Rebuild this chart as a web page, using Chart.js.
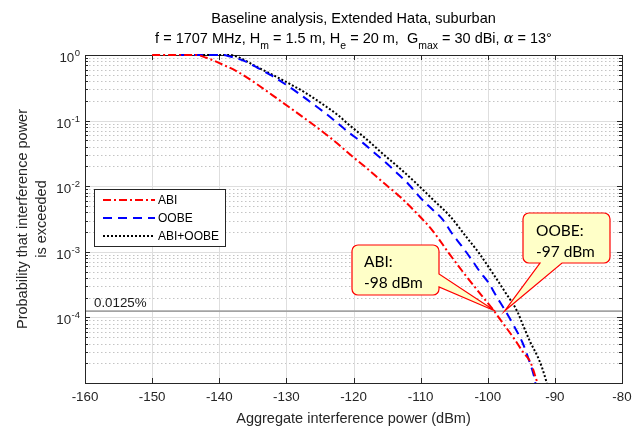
<!DOCTYPE html>
<html>
<head>
<meta charset="utf-8">
<script src="https://cdn.jsdelivr.net/npm/chart.js@4.4.1/dist/chart.umd.min.js"></script>
<style>
  html, body { margin: 0; padding: 0; background: #fff; }
  canvas { display: block; }
</style>
</head>
<body>
<canvas id="grafico" width="633" height="430"></canvas>
<script>
// Curvas de probabilidad de excedencia
const potenciaABI = [-150, -143.5, -141.9, -139.5, -137, -134.6, -132.1, -129.5, -127.1, -124.6, -122.4, -120.6, -118.1, -115.7, -113.2, -110.7, -108.2, -105.8, -103.3, -100.8, -99.3, -97.8, -96.1, -94.8, -93.6, -93.1, -92.6];
const probABI = [1, 1, 0.906, 0.716, 0.537, 0.372, 0.245, 0.158, 0.105, 0.0676, 0.0447, 0.0309, 0.0191, 0.0117, 0.00708, 0.00398, 0.00209, 0.000955, 0.000437, 0.000209, 0.000135, 0.0000832, 0.0000479, 0.0000302, 0.0000204, 0.0000145, 0.00001];

const potenciaOOBE = [-146, -139.5, -138.5, -136.3, -134.3, -132.1, -130.1, -128.1, -126.4, -124.3, -122.6, -120.6, -118.6, -116.9, -115.2, -113.5, -111.8, -110.0, -108.2, -106.7, -105.4, -103.9, -102.4, -101.2, -99.9, -98.7, -97.5, -96.1, -94.8, -93.9, -93.1, -92.9];
const probOOBE = [1, 1, 0.955, 0.813, 0.638, 0.479, 0.355, 0.257, 0.191, 0.132, 0.0955, 0.0646, 0.0457, 0.0324, 0.0229, 0.0158, 0.0107, 0.00661, 0.00437, 0.00309, 0.00195, 0.00123, 0.000759, 0.000501, 0.000339, 0.000209, 0.000132, 0.0000741, 0.0000407, 0.0000229, 0.0000126, 0.00001];

const potenciaTotal = [-143, -138.5, -137.0, -134.6, -132.1, -129.5, -127.1, -124.6, -122.4, -120.6, -118.1, -115.7, -113.2, -110.7, -108.2, -105.6, -103.3, -101.3, -99.3, -97.3, -95.6, -94.7, -93.6, -92.6, -91.9, -91.2];
const probTotal = [1, 1, 0.912, 0.676, 0.501, 0.363, 0.263, 0.178, 0.123, 0.0851, 0.0525, 0.0316, 0.0191, 0.0112, 0.00631, 0.00347, 0.00174, 0.000955, 0.000479, 0.000234, 0.000123, 0.0000741, 0.0000407, 0.0000257, 0.0000170, 0.00001];

// Ejes
const ticksX = [-160, -150, -140, -130, -120, -110, -100, -90, -80];
const exponentesY = [0, -1, -2, -3, -4];

// Umbral y anotaciones
const umbral = 1.25e-4;
const umbralTexto = '0.0125%';
const puntoABI = -98.9;
const puntoOOBE = -97.5;

const FUENTE = '"Liberation Sans", Arial, sans-serif';
const GRIS_EJE = '#262626';

function puntos(xs, ys) {
  return xs.map((x, i) => ({ x: x, y: ys[i] }));
}

function linea(ctx, x1, y1, x2, y2) {
  ctx.beginPath();
  ctx.moveTo(x1, y1);
  ctx.lineTo(x2, y2);
  ctx.stroke();
}

// Texto con subíndices / cursiva (estilo TeX de MATLAB)
function textoRico(ctx, partes, xc, base, tam) {
  let ancho = 0;
  const med = partes.map(p => {
    let f = tam + 'px ' + FUENTE;
    if (p[1] === 'sub') f = (tam * 0.72) + 'px ' + FUENTE;
    if (p[1] === 'it') f = 'italic ' + tam + 'px "DejaVu Serif", serif';
    ctx.font = f;
    const w = ctx.measureText(p[0]).width;
    ancho += w;
    return { f: f, w: w };
  });
  let x = xc - ancho / 2;
  ctx.textAlign = 'left';
  ctx.textBaseline = 'alphabetic';
  partes.forEach((p, i) => {
    ctx.font = med[i].f;
    ctx.fillText(p[0], x, p[1] === 'sub' ? base + 6 : base);
    x += med[i].w;
  });
}

// Globo de anotación con puntero
function globo(ctx, l, t, r, b, rad, punta, lado, b1, b2) {
  ctx.beginPath();
  ctx.moveTo(l + rad, t);
  ctx.lineTo(r - rad, t);
  ctx.arcTo(r, t, r, t + rad, rad);
  if (lado === 'derecha') {
    ctx.lineTo(r, b1);
    ctx.lineTo(punta.x, punta.y);
    ctx.lineTo(r, b2);
  }
  ctx.lineTo(r, b - rad);
  ctx.arcTo(r, b, r - rad, b, rad);
  if (lado === 'abajo') {
    ctx.lineTo(b2, b);
    ctx.lineTo(punta.x, punta.y);
    ctx.lineTo(b1, b);
  }
  ctx.lineTo(l + rad, b);
  ctx.arcTo(l, b, l, b - rad, rad);
  ctx.lineTo(l, t + rad);
  ctx.arcTo(l, t, l + rad, t, rad);
  ctx.closePath();
  ctx.fillStyle = '#ffffc8';
  ctx.fill();
  ctx.strokeStyle = '#ff0000';
  ctx.lineWidth = 1.2;
  ctx.stroke();
}

const ejesMatlab = {
  id: 'ejesMatlab',
  beforeDatasetsDraw(chart) {
    const { ctx, chartArea: a, scales: { x, y } } = chart;
    ctx.save();
    ctx.lineWidth = 1;

    // rejilla menor (punteada)
    ctx.strokeStyle = '#c4c4c4';
    ctx.setLineDash([1.5, 2.5]);
    for (let e = -5; e < 0; e++) {
      for (let m = 2; m <= 9; m++) {
        const py = Math.round(y.getPixelForValue(m * Math.pow(10, e))) + 0.5;
        linea(ctx, a.left, py, a.right, py);
      }
    }
    ctx.setLineDash([]);

    // rejilla mayor
    ctx.strokeStyle = '#dedede';
    ticksX.forEach(v => {
      const px = Math.round(x.getPixelForValue(v)) + 0.5;
      linea(ctx, px, a.top, px, a.bottom);
    });
    exponentesY.forEach(e => {
      const py = Math.round(y.getPixelForValue(Math.pow(10, e))) + 0.5;
      linea(ctx, a.left, py, a.right, py);
    });

    // línea de umbral
    const pu = y.getPixelForValue(umbral);
    ctx.strokeStyle = '#a3a3a3';
    ctx.lineWidth = 1.8;
    linea(ctx, a.left, pu, a.right, pu);
    ctx.fillStyle = '#1a1a1a';
    ctx.font = '13.33px ' + FUENTE;
    ctx.textAlign = 'left';
    ctx.textBaseline = 'alphabetic';
    ctx.fillText(umbralTexto, a.left + 9, pu - 4);

    // caja y marcas
    ctx.strokeStyle = GRIS_EJE;
    ctx.lineWidth = 1;
    ctx.strokeRect(Math.round(a.left) + 0.5, Math.round(a.top) + 0.5, Math.round(a.right - a.left), Math.round(a.bottom - a.top));
    ticksX.forEach(v => {
      const px = Math.round(x.getPixelForValue(v)) + 0.5;
      linea(ctx, px, a.bottom, px, a.bottom - 5);
      linea(ctx, px, a.top, px, a.top + 5);
    });
    for (let e = -5; e <= 0; e++) {
      for (let m = 1; m <= 9; m++) {
        if (e === 0 && m > 1) break;
        const py = Math.round(y.getPixelForValue(m * Math.pow(10, e))) + 0.5;
        const largo = m === 1 ? 5 : 3;
        linea(ctx, a.left, py, a.left + largo, py);
        linea(ctx, a.right, py, a.right - largo, py);
      }
    }
    ctx.restore();
  },
  afterDatasetsDraw(chart) {
    const { ctx, chartArea: a, scales: { x, y } } = chart;
    ctx.save();

    // etiquetas eje X
    ctx.fillStyle = GRIS_EJE;
    ctx.font = '13.33px ' + FUENTE;
    ctx.textAlign = 'center';
    ctx.textBaseline = 'alphabetic';
    ticksX.forEach(v => ctx.fillText(String(v), x.getPixelForValue(v), 401));

    // etiquetas eje Y (10 con exponente)
    exponentesY.forEach(e => {
      const py = y.getPixelForValue(Math.pow(10, e));
      ctx.font = '9.5px ' + FUENTE;
      ctx.textAlign = 'right';
      const sup = String(e);
      ctx.fillText(sup, a.left - 5, py + 1);
      const ws = ctx.measureText(sup).width;
      ctx.font = '13.33px ' + FUENTE;
      ctx.fillText('10', a.left - 5.5 - ws, py + 7);
    });

    // títulos de ejes
    ctx.font = '14.5px ' + FUENTE;
    ctx.textAlign = 'center';
    ctx.fillText('Aggregate interference power (dBm)', (a.left + a.right) / 2, 423);
    ctx.save();
    ctx.translate(22.5, (a.top + a.bottom) / 2);
    ctx.rotate(-Math.PI / 2);
    ctx.textBaseline = 'middle';
    ctx.fillText('Probability that interference power', 0, 0);
    ctx.fillText('is exceeded', 0, 19.5);
    ctx.restore();

    // título
    ctx.fillStyle = '#000';
    const xc = (a.left + a.right) / 2;
    textoRico(ctx, [['Baseline analysis, Extended Hata, suburban', '']], xc, 23, 14.5);
    textoRico(ctx, [
      ['f = 1707 MHz, H', ''], ['m', 'sub'], [' = 1.5 m, H', ''], ['e', 'sub'],
      [' = 20 m,  G', ''], ['max', 'sub'], [' = 30 dBi, ', ''], ['\u03b1', 'it'], [' = 13\u00b0', '']
    ], xc, 43, 14.5);

    // leyenda
    ctx.fillStyle = '#fff';
    ctx.fillRect(94, 189, 131, 57);
    ctx.strokeStyle = GRIS_EJE;
    ctx.lineWidth = 1;
    ctx.strokeRect(94.5, 189.5, 131, 57);
    chart.data.datasets.forEach((ds, i) => {
      const ly = 200 + i * 18;
      ctx.strokeStyle = ds.borderColor;
      ctx.lineWidth = ds.borderWidth;
      ctx.setLineDash(ds.borderDash);
      linea(ctx, 103, ly, 155, ly);
      ctx.setLineDash([]);
      ctx.fillStyle = '#000';
      ctx.font = '12px ' + FUENTE;
      ctx.textAlign = 'left';
      ctx.textBaseline = 'middle';
      ctx.fillText(ds.label, 158, ly + 0.5);
    });

    // anotaciones
    const pu = y.getPixelForValue(umbral);
    globo(ctx, 352, 245, 439, 295, 6, { x: x.getPixelForValue(puntoABI), y: pu }, 'derecha', 274, 287);
    globo(ctx, 523, 213, 610, 263, 6, { x: x.getPixelForValue(puntoOOBE), y: pu }, 'abajo', 540, 562);
    ctx.fillStyle = '#000';
    ctx.font = '15.5px Lato, "Open Sans", sans-serif';
    ctx.textAlign = 'left';
    ctx.textBaseline = 'alphabetic';
    ctx.fillText('ABI:', 364, 267);
    ctx.fillText('-98 dBm', 364, 288);
    ctx.fillText('OOBE:', 536, 236);
    ctx.fillText('-97 dBm', 536, 257);

    ctx.restore();
  }
};

new Chart(document.getElementById('grafico'), {
  type: 'line',
  data: {
    datasets: [
      { label: 'ABI', data: puntos(potenciaABI, probABI), borderColor: '#ff0000', borderWidth: 2, borderDash: [8, 3, 2, 3] },
      { label: 'OOBE', data: puntos(potenciaOOBE, probOOBE), borderColor: '#0000ff', borderWidth: 2, borderDash: [9, 6] },
      { label: 'ABI+OOBE', data: puntos(potenciaTotal, probTotal), borderColor: '#000000', borderWidth: 2, borderDash: [2, 2] }
    ]
  },
  options: {
    responsive: false,
    devicePixelRatio: 1,
    animation: false,
    layout: { padding: { left: 85, right: 11, top: 55, bottom: 47 } },
    elements: { point: { radius: 0 }, line: { cubicInterpolationMode: 'monotone', fill: false } },
    datasets: { line: { clip: 3 } },
    scales: {
      x: { type: 'linear', min: -160, max: -80, display: false },
      y: { type: 'logarithmic', min: 1e-5, max: 1, display: false }
    },
    plugins: { legend: { display: false }, tooltip: { enabled: false } }
  },
  plugins: [ejesMatlab]
});
</script>
</body>
</html>
